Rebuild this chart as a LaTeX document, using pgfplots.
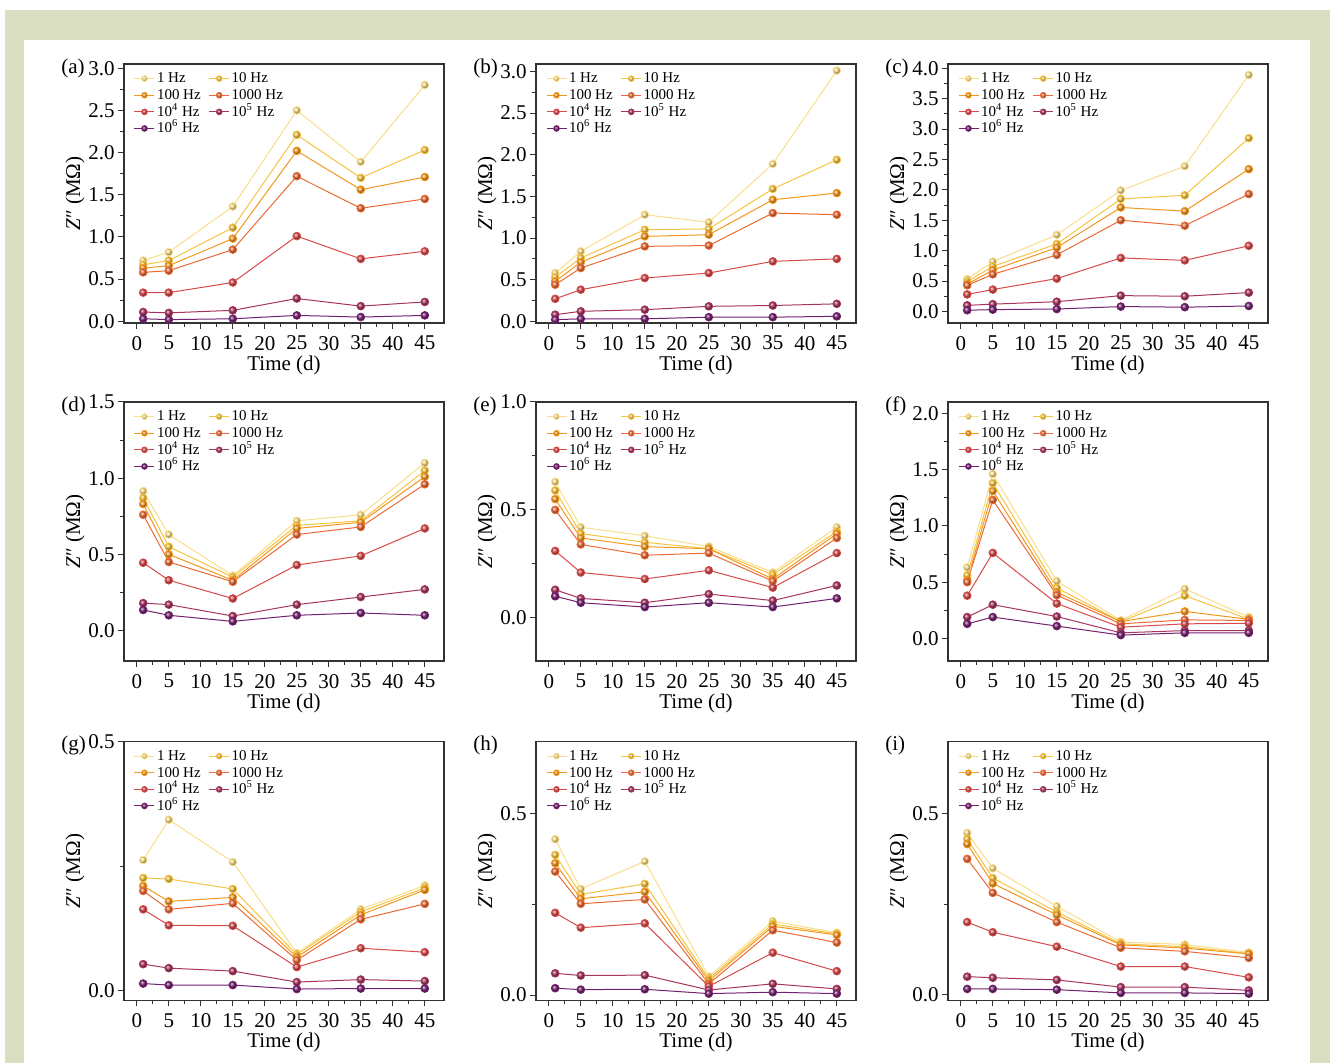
\documentclass[border=0pt]{standalone}
\usepackage{fontspec}
\setmainfont{Liberation Serif}
\usepackage{pgfplots}
\usepackage{pgfplotstable}
\pgfplotsset{compat=1.18}

\definecolor{bggreen}{RGB}{217,223,192}
\definecolor{c1}{RGB}{250,222,140}
\definecolor{c2}{RGB}{246,196,66}
\definecolor{c3}{RGB}{243,152,30}
\definecolor{c4}{RGB}{234,106,54}
\definecolor{c5}{RGB}{214,74,74}
\definecolor{c6}{RGB}{166,52,94}
\definecolor{c7}{RGB}{115,32,110}

\pgfplotstableread{
t a b c d e f g
1 0.72 0.67 0.63 0.58 0.34 0.11 0.03
5 0.82 0.72 0.66 0.60 0.34 0.10 0.02
15 1.36 1.11 0.98 0.85 0.46 0.13 0.03
25 2.50 2.21 2.02 1.72 1.01 0.27 0.07
35 1.89 1.70 1.56 1.34 0.74 0.18 0.05
45 2.80 2.03 1.71 1.45 0.83 0.23 0.07
}\tabA
\pgfplotstableread{
t a b c d e f g
1 0.58 0.53 0.48 0.44 0.27 0.08 0.02
5 0.84 0.76 0.71 0.64 0.38 0.12 0.03
15 1.28 1.10 1.02 0.90 0.52 0.14 0.03
25 1.19 1.11 1.04 0.91 0.58 0.18 0.05
35 1.89 1.59 1.46 1.30 0.72 0.19 0.05
45 3.01 1.94 1.54 1.28 0.75 0.21 0.06
}\tabB
\pgfplotstableread{
t a b c d e f g
1 0.53 0.49 0.45 0.43 0.28 0.10 0.02
5 0.82 0.74 0.68 0.61 0.36 0.12 0.03
15 1.26 1.11 1.05 0.93 0.54 0.16 0.04
25 1.99 1.85 1.71 1.50 0.88 0.26 0.08
35 2.39 1.91 1.65 1.41 0.84 0.25 0.07
45 3.89 2.85 2.34 1.93 1.08 0.31 0.09
}\tabC
\pgfplotstableread{
t a b c d e f g
1 0.915 0.87 0.83 0.76 0.445 0.18 0.135
5 0.63 0.55 0.50 0.45 0.33 0.17 0.10
15 0.36 0.35 0.33 0.32 0.21 0.095 0.06
25 0.72 0.69 0.67 0.63 0.43 0.17 0.10
35 0.76 0.72 0.71 0.68 0.49 0.22 0.115
45 1.10 1.05 1.01 0.96 0.67 0.27 0.10
}\tabD
\pgfplotstableread{
t a b c d e f g
1 0.63 0.59 0.55 0.50 0.31 0.13 0.10
5 0.42 0.39 0.37 0.34 0.21 0.09 0.07
15 0.38 0.35 0.33 0.29 0.18 0.07 0.05
25 0.33 0.32 0.32 0.30 0.22 0.11 0.07
35 0.21 0.20 0.18 0.17 0.14 0.08 0.05
45 0.42 0.40 0.39 0.37 0.30 0.15 0.09
}\tabE
\pgfplotstableread{
t a b c d e f g
1 0.63 0.56 0.52 0.50 0.38 0.19 0.13
5 1.46 1.38 1.31 1.23 0.76 0.30 0.19
15 0.51 0.45 0.41 0.385 0.31 0.195 0.11
25 0.16 0.15 0.15 0.13 0.10 0.05 0.03
35 0.44 0.38 0.24 0.165 0.13 0.07 0.05
45 0.19 0.17 0.17 0.16 0.135 0.07 0.05
}\tabF
\pgfplotstableread{
t a b c d e f g
1 0.262 0.226 0.21 0.20 0.163 0.053 0.014
5 0.343 0.224 0.179 0.163 0.131 0.045 0.011
15 0.258 0.204 0.187 0.175 0.13 0.039 0.011
25 0.075 0.072 0.067 0.061 0.047 0.017 0.003
35 0.163 0.158 0.152 0.143 0.085 0.022 0.004
45 0.211 0.206 0.202 0.174 0.077 0.019 0.004
}\tabG
\pgfplotstableread{
t a b c d e f g
1 0.43 0.387 0.364 0.341 0.227 0.06 0.019
5 0.293 0.278 0.266 0.252 0.186 0.054 0.015
15 0.369 0.307 0.285 0.264 0.198 0.055 0.016
25 0.051 0.045 0.039 0.031 0.024 0.014 0.004
35 0.204 0.196 0.19 0.179 0.117 0.031 0.008
45 0.172 0.169 0.166 0.145 0.066 0.017 0.004
}\tabH
\pgfplotstableread{
t a b c d e f g
1 0.447 0.43 0.416 0.375 0.20 0.049 0.015
5 0.349 0.322 0.307 0.281 0.172 0.046 0.015
15 0.244 0.228 0.22 0.20 0.132 0.04 0.013
25 0.145 0.14 0.137 0.129 0.077 0.02 0.004
35 0.138 0.132 0.128 0.119 0.077 0.02 0.004
45 0.116 0.113 0.112 0.101 0.047 0.011 0.002
}\tabI

\pgfplotscreateplotcyclelist{freq}{
{c1,line width=0.5pt,mark=ball,mark size=1.9pt,mark options={ball color=c1}},
{c2,line width=0.5pt,mark=ball,mark size=1.9pt,mark options={ball color=c2}},
{c3,line width=0.5pt,mark=ball,mark size=1.9pt,mark options={ball color=c3}},
{c4,line width=0.5pt,mark=ball,mark size=1.9pt,mark options={ball color=c4}},
{c5,line width=0.5pt,mark=ball,mark size=1.9pt,mark options={ball color=c5}},
{c6,line width=0.5pt,mark=ball,mark size=1.9pt,mark options={ball color=c6}},
{c7,line width=0.5pt,mark=ball,mark size=1.9pt,mark options={ball color=c7}}%
}

\pgfplotsset{panel/.style={
  width=160pt,height=129.5pt,scale only axis,
  xmin=-2,xmax=48,xtick={0,5,...,45},minor x tick num=1,minor y tick num=1,
  tick align=outside,xtick pos=bottom,ytick pos=left,
  axis line style={line width=0.6pt,black!80},
  every tick/.style={line width=0.5pt,black!80},
  major tick length=3pt,minor tick length=1.8pt,
  tick label style={font=\fontsize{10.5}{12}\selectfont},
  /pgf/number format/assume math mode=true,
  y tick label style={xshift=1.8pt,/pgf/number format/fixed,/pgf/number format/fixed zerofill,/pgf/number format/precision=1},
  label style={font=\fontsize{10.5}{12}\selectfont},
  xlabel={Time (d)},
  ylabel={\textit{Z}″ (MΩ)},
  xlabel style={at={(axis description cs:0.5,-0.163)},anchor=center},
  ylabel style={at={(axis description cs:-0.153,0.5)},anchor=center},
  clip=false,
  cycle list name=freq,
  legend columns=2,legend cell align=left,
  legend style={draw=none,fill=none,at={(0.03,0.977)},anchor=north west,
    font=\fontsize{7.5}{8}\selectfont,inner sep=0pt,
    nodes={inner sep=1pt,text height=5.3pt,text depth=1pt},
    /tikz/every even column/.append style={column sep=3pt}},
  legend image code/.code={\draw[mark repeat=2,mark phase=2,mark size=1.4pt] plot coordinates {(0pt,0pt)(5pt,0pt)(10pt,0pt)};},
}}

\newcommand\sevenplots[2]{%
  \addplot table[x=t,y=a]{#1};
  \addplot table[x=t,y=b]{#1};
  \addplot table[x=t,y=c]{#1};
  \addplot table[x=t,y=d]{#1};
  \addplot table[x=t,y=e]{#1};
  \addplot table[x=t,y=f]{#1};
  \addplot table[x=t,y=g]{#1};
  \legend{1 Hz,10 Hz,100 Hz,1000 Hz,10\textsuperscript{4} Hz,10\textsuperscript{5} Hz,10\textsuperscript{6} Hz}
  \node[anchor=west,inner sep=0pt,font=\fontsize{10.5}{12}\selectfont,xshift=-31.5pt,yshift=-2pt] at (rel axis cs:0,1) {#2};
}

\begin{document}
\begin{tikzpicture}
\fill[white] (0,0) rectangle (665pt,-531.5pt);
\fill[bggreen] (2.5pt,-5pt) rectangle (665pt,-531.5pt);
\fill[white] (12pt,-20pt) rectangle (655pt,-531.5pt);

\begin{axis}[panel,at={(62pt,-161.5pt)},anchor=south west,ymin=-0.02,ymax=3.05,ytick={0,0.5,...,3.0}]
\sevenplots{\tabA}{(a)}
\end{axis}
\begin{axis}[panel,at={(268pt,-161.5pt)},anchor=south west,ymin=-0.02,ymax=3.09,ytick={0,0.5,...,3.0}]
\sevenplots{\tabB}{(b)}
\end{axis}
\begin{axis}[panel,at={(474pt,-161.5pt)},anchor=south west,ymin=-0.19,ymax=4.07,ytick={0,0.5,...,4.0}]
\sevenplots{\tabC}{(c)}
\end{axis}

\begin{axis}[panel,at={(62pt,-330.5pt)},anchor=south west,ymin=-0.2,ymax=1.5,ytick={0,0.5,1.0,1.5}]
\sevenplots{\tabD}{(d)}
\end{axis}
\begin{axis}[panel,at={(268pt,-330.5pt)},anchor=south west,ymin=-0.2,ymax=1.0,ytick={0,0.5,1.0}]
\sevenplots{\tabE}{(e)}
\end{axis}
\begin{axis}[panel,at={(474pt,-330.5pt)},anchor=south west,ymin=-0.2,ymax=2.1,ytick={0,0.5,...,2.0}]
\sevenplots{\tabF}{(f)}
\end{axis}

\begin{axis}[panel,at={(62pt,-500.25pt)},anchor=south west,ymin=-0.02,ymax=0.5,ytick={0,0.5}]
\sevenplots{\tabG}{(g)}
\end{axis}
\begin{axis}[panel,at={(268pt,-500.25pt)},anchor=south west,ymin=-0.015,ymax=0.7,ytick={0,0.5}]
\sevenplots{\tabH}{(h)}
\end{axis}
\begin{axis}[panel,at={(474pt,-500.25pt)},anchor=south west,ymin=-0.017,ymax=0.7,ytick={0,0.5}]
\sevenplots{\tabI}{(i)}
\end{axis}

\pgfresetboundingbox
\useasboundingbox (0,0) rectangle (665pt,-531.5pt);
\end{tikzpicture}
\end{document}
